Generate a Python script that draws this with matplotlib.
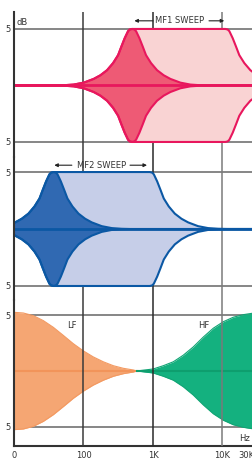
import numpy as np
import matplotlib
matplotlib.use("Agg")
import matplotlib.pyplot as plt
from matplotlib.ticker import NullLocator

plt.rcParams['font.family'] = ['DejaVu Sans']

# ---------------- data ----------------
X_LIM = (10, 26600)
X_TICKS = [10, 100, 1000, 10000, 22000]
X_TICK_LABELS = ['0', '100', '1K', '10K', '30K']
GRID_FREQS = [100, 1000, 10000]

# half-bell profile of a mid EQ band: distance from centre (decades) -> gain (dB)
BELL_DEC = [0.0, 0.034, 0.058, 0.106, 0.153, 0.201, 0.273, 0.360, 0.456, 0.552,
            0.695, 0.839, 0.983, 1.127]
BELL_DB = [5.0, 4.95, 4.8, 4.18, 3.45, 2.68, 1.98, 1.35, 0.9, 0.58, 0.25, 0.08,
           0.02, 0.0]

MF1_RANGE = (500, 11000)
MF2_RANGE = (37, 900)

LF_FREQ = [10, 13.6, 19.0, 26.4, 36.8, 51.2, 71.3, 99.3, 138, 193, 269, 374, 521, 582]
LF_DB = [5.24, 5.18, 4.94, 4.5, 3.9, 3.18, 2.44, 1.8, 1.26, 0.82, 0.47, 0.24, 0.09, 0.0]

HF_FREQ = [582, 1009, 1406, 1959, 2729, 3802, 5297, 7380, 10280, 14300, 19920, 26550, 30000]
HF_DB = [0.0, 0.18, 0.47, 0.82, 1.41, 2.15, 3.03, 3.82, 4.4, 4.8, 5.03, 5.15, 5.2]

# ---------------- figure ----------------
fig = plt.figure(figsize=(2.52, 4.59), dpi=100)
L, W = 14 / 252, 238 / 252
ax1 = fig.add_axes([L, 302 / 459, W, 145 / 459])
ax2 = fig.add_axes([L, 159 / 459, W, 143 / 459])
ax3 = fig.add_axes([L, 13 / 459, W, 146 / 459])
ax1.set_ylim(-6.33, 6.5)
ax2.set_ylim(-6.23, 6.32)
ax3.set_ylim(-6.7, 6.34)

GRID_COLORS = {100: '#3a3a3a', 1000: '#2a2a2a', 10000: '#7a7a7a'}

for ax in (ax1, ax2, ax3):
    ax.set_xscale('log')
    ax.set_xlim(*X_LIM)
    ax.xaxis.set_minor_locator(NullLocator())
    for s in ('top', 'right', 'bottom'):
        ax.spines[s].set_visible(False)
    ax.spines['left'].set_color('#333333')
    ax.spines['left'].set_linewidth(1.5)
    ax.spines['left'].set_zorder(6)
    ax.set_yticks([-5, 5])
    ax.set_yticklabels(['5', '5'])
    ax.tick_params(axis='both', length=0, labelsize=6, colors='#333333', pad=2.5)
    ax.patch.set_alpha(0)
    for yv in (-5, 5):
        ax.axhline(yv, color='#666666', lw=1.1, zorder=0.5)

for ax in (ax1, ax2):
    ax.set_xticks([])
    for f in GRID_FREQS:
        ax.axvline(f, color=GRID_COLORS[f], lw=1.1, zorder=0.6)

for f in GRID_FREQS:
    ax3.axvline(f, color=GRID_COLORS[f], lw=1.1, zorder=4)

ax3.spines['bottom'].set_visible(True)
ax3.spines['bottom'].set_color('#333333')
ax3.spines['bottom'].set_linewidth(1.5)
ax3.set_xticks(X_TICKS)
ax3.set_xticklabels(X_TICK_LABELS)
ax3.tick_params(axis='x', pad=3.5)

dec = np.array(BELL_DEC)
gdb = np.array(BELL_DB)


def mf_panel(ax, rng, stroke, dark, light):
    f_lo, f_hi = rng
    lx = f_lo / 10 ** dec[::-1]
    lg = gdb[::-1]
    # sweep envelope
    ex = np.concatenate([[X_LIM[0] / 2], lx, f_hi * 10 ** dec, [X_LIM[1] * 2]])
    eg = np.concatenate([[0], lg, gdb, [0]])
    # lowest-frequency bell
    bx = np.concatenate([[X_LIM[0] / 2], lx, f_lo * 10 ** dec[1:], [X_LIM[1] * 2]])
    bg = np.concatenate([[0], lg, gdb[1:], [0]])
    ax.fill_between(ex, -eg, eg, color=light, lw=0, zorder=1)
    ax.fill_between(bx, -bg, bg, color=dark, lw=0, zorder=2)
    for sgn in (1, -1):
        ax.plot(ex, sgn * eg, color=stroke, lw=1.5, zorder=3, solid_joinstyle='round')
        ax.plot(bx, sgn * bg, color=stroke, lw=1.5, zorder=3, solid_joinstyle='round')
    ax.axhline(0, color=stroke, lw=2.0, zorder=3.5)


mf_panel(ax1, MF1_RANGE, '#E8175D', '#EE5A75', '#F9D3D3')
mf_panel(ax2, MF2_RANGE, '#0B58A4', '#3069B2', '#C6CEE8')

# LF / HF shelves
lf_f = np.array(LF_FREQ); lf_g = np.array(LF_DB)
hf_f = np.array(HF_FREQ); hf_g = np.array(HF_DB)
ax3.fill_between(lf_f, -lf_g, lf_g, color='#F5A673', lw=0, zorder=1)
ax3.fill_between(hf_f, -hf_g, hf_g, color='#14B17F', lw=0, zorder=1)
for sgn in (1, -1):
    ax3.plot(lf_f, sgn * lf_g, color='#F39A62', lw=0.8, zorder=2)
    ax3.plot(hf_f, sgn * hf_g, color='#10A474', lw=0.8, zorder=2)
ax3.plot([lf_f[0], lf_f[-1]], [0, 0], color='#F2945A', lw=1.5, zorder=2)
ax3.plot([hf_f[0], hf_f[-1]], [0, 0], color='#0E9E6E', lw=1.5, zorder=2)

# labels
TXT = dict(fontsize=6, color='#333333')
ax1.text(11, 5.6, 'dB', ha='left', va='center', **TXT)
ax3.text(68, 4.1, 'LF', ha='center', va='center', **TXT)
ax3.text(5400, 4.1, 'HF', ha='center', va='center', **TXT)
ax3.text(21000, -6.0, 'Hz', ha='center', va='center', **TXT)


def sweep_label(ax, y, text, f_text, f_lo, f_hi, a_lo_start, a_hi_start):
    ax.text(f_text, y, text, ha='center', va='center', zorder=6, **TXT)
    ap = dict(arrowstyle='-|>', color='#222222', lw=0.8, mutation_scale=5,
              shrinkA=0, shrinkB=0)
    ax.annotate('', xy=(f_lo, y), xytext=(a_lo_start, y), arrowprops=ap, zorder=6)
    ax.annotate('', xy=(f_hi, y), xytext=(a_hi_start, y), arrowprops=ap, zorder=6)


sweep_label(ax1, 5.72, 'MF1 SWEEP', 2440, 540, 10600, 1000, 6400)
sweep_label(ax2, 5.6, 'MF2 SWEEP', 179, 38, 820, 68, 467)

fig.savefig('out.png', dpi=100)
